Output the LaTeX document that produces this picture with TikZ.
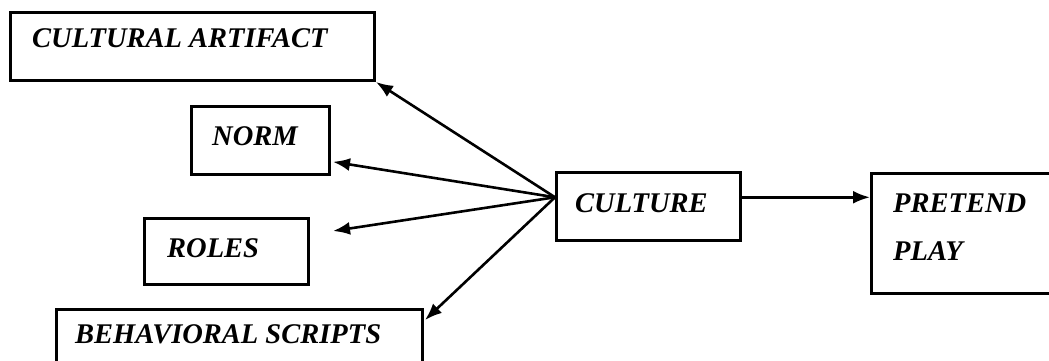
\documentclass[tikz,border=0pt]{standalone}
\usepackage{fontspec}
\setmainfont{Liberation Serif}
\usetikzlibrary{arrows.meta,calc}
\begin{document}
\begin{tikzpicture}[x=1pt,y=-1pt,
  box/.style={draw=black,line width=3pt,rectangle,inner sep=0pt,anchor=north west},
  lbl/.style={anchor=base west,inner sep=0pt,font=\fontsize{28.5}{32}\selectfont\bfseries\itshape},
  arr/.style={line width=2.6pt,-{Latex[length=17pt,width=13pt]}}]
\useasboundingbox (0,0) rectangle (1049,360);
\fill[white] (0,0) rectangle (1049,360);
% boxes
\node[box,minimum width=364pt,minimum height=68pt] (artifact) at (9,11) {};
\node[box,minimum width=138pt,minimum height=68pt] (norm) at (190,105) {};
\node[box,minimum width=164pt,minimum height=66pt] (roles) at (143,217) {};
\node[box,minimum width=366pt,minimum height=62pt] (scripts) at (55,308) {};
\node[box,minimum width=184pt,minimum height=68pt] (culture) at (555,171) {};
\node[box,minimum width=200pt,minimum height=120pt] (pretend) at (870,172) {};
% labels
\node[lbl] (tartifact) at (32,47) {CULTURAL ARTIFACT};
\node[lbl] (tnorm) at (212,145) {NORM};
\node[lbl] (troles) at (167,257) {ROLES};
\node[lbl] (tscripts) at (75,343) {BEHAVIORAL SCRIPTS};
\node[lbl] (tculture) at (575,212) {CULTURE};
\node[lbl] (tpretend) at (893,212) {PRETEND};
\node[lbl] (tplay) at (893,260) {PLAY};
% connectors
\coordinate (hub) at ($(culture.north west)!0.37!(culture.south west)$);
\coordinate (normtip) at ($(norm.north east)!0.8!(norm.south east)+(2,0)$);
\coordinate (rolestip) at ($(roles.north east)+(23,14)$);
\coordinate (scriptstip) at ($(scripts.north east)+(1,12)$);
\draw[arr] (hub) -- (artifact.south east);
\draw[arr] (hub) -- (normtip);
\draw[arr] (hub) -- (rolestip);
\draw[arr] (hub) -- (scriptstip);
\draw[arr] (culture.east |- hub) -- (pretend.west |- hub);
\end{tikzpicture}
\end{document}
